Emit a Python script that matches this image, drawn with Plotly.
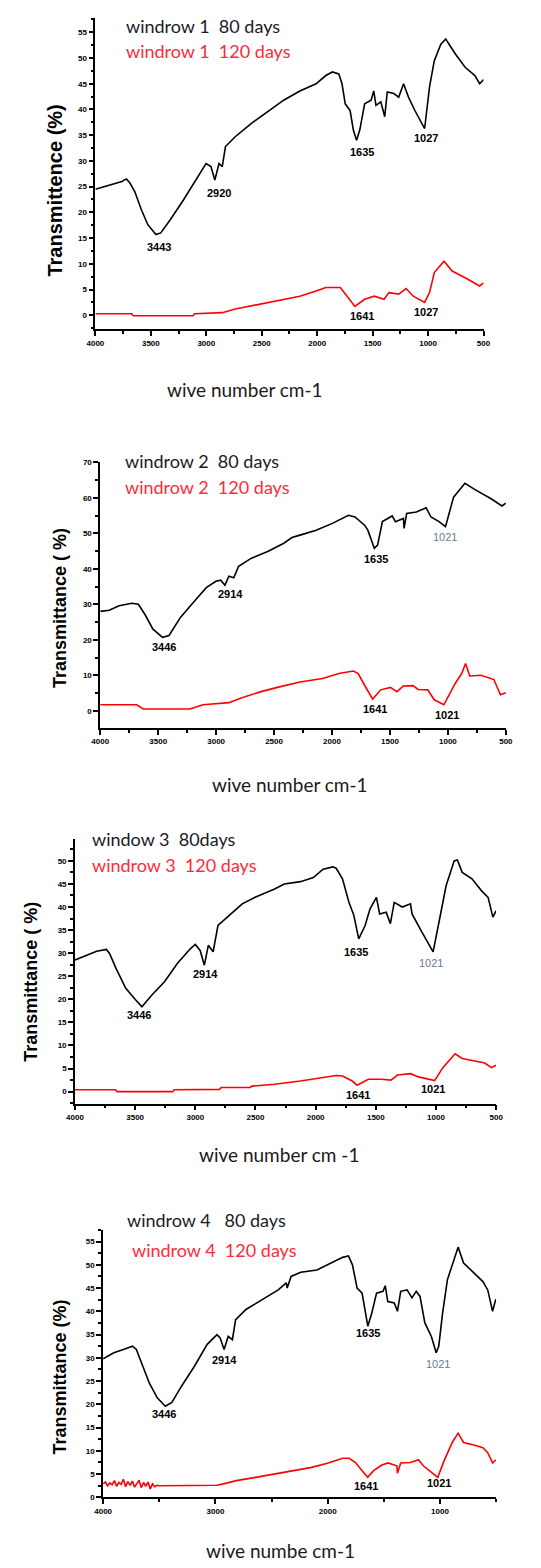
import plotly.graph_objects as go

W, H = 541, 1568

# ---------------- data ----------------
# Panel 1
w1_80_x = [4000, 3907, 3761, 3720, 3688, 3644, 3585, 3527, 3454, 3410, 3323, 3206, 3089, 3002, 2958, 2923, 2885, 2856, 2827, 2739, 2593, 2447, 2302, 2156, 2010, 1922, 1863, 1805, 1776, 1747, 1703, 1674, 1645, 1616, 1572, 1514, 1490, 1470, 1426, 1391, 1368, 1309, 1265, 1221, 1177, 1119, 1075, 1031, 987, 944, 885, 841, 754, 666, 578, 535, 500]
w1_80_y = [24.5, 25.1, 26.0, 26.5, 25.7, 24.0, 20.5, 17.6, 15.7, 16.0, 18.6, 22.4, 26.6, 29.5, 28.9, 26.3, 29.5, 28.9, 32.8, 34.7, 37.3, 39.5, 41.8, 43.6, 45.0, 46.6, 47.3, 46.9, 45.0, 41.1, 39.8, 36.0, 34.0, 36.0, 41.1, 41.8, 43.6, 40.8, 41.5, 38.6, 43.4, 43.1, 42.4, 45.0, 42.4, 39.8, 37.9, 36.3, 44.4, 49.5, 52.7, 53.7, 50.8, 48.2, 46.6, 45.0, 45.8]
w1_120_x = [4000, 3673, 3658, 3119, 3105, 2856, 2739, 2593, 2447, 2302, 2156, 2010, 1922, 1791, 1733, 1660, 1572, 1485, 1397, 1353, 1265, 1198, 1134, 1031, 987, 944, 856, 783, 666, 535, 500]
w1_120_y = [0.3, 0.3, -0.1, -0.1, 0.3, 0.5, 1.2, 1.8, 2.5, 3.1, 3.7, 4.7, 5.4, 5.4, 3.7, 1.7, 3.1, 3.7, 3.1, 4.4, 4.1, 5.2, 3.7, 2.5, 4.4, 8.3, 10.5, 8.6, 7.3, 5.7, 6.3]

# Panel 2
w2_80_x = [4000, 3922, 3838, 3727, 3671, 3615, 3545, 3462, 3406, 3308, 3197, 3085, 3002, 2960, 2924, 2890, 2848, 2806, 2695, 2555, 2416, 2346, 2276, 2137, 1997, 1858, 1802, 1719, 1691, 1635, 1607, 1565, 1481, 1453, 1384, 1378, 1356, 1272, 1188, 1146, 1076, 1021, 951, 853, 770, 631, 533, 500]
w2_80_y = [28.0, 28.3, 29.6, 30.3, 30.0, 27.2, 23.0, 20.7, 21.2, 26.3, 30.5, 34.7, 36.5, 36.8, 35.4, 37.9, 37.5, 40.7, 43.0, 44.9, 47.2, 48.8, 49.5, 50.9, 52.8, 55.1, 54.6, 52.3, 50.9, 45.8, 46.7, 53.3, 54.9, 53.3, 54.2, 51.4, 55.6, 56.0, 57.2, 54.6, 53.3, 51.9, 60.2, 64.1, 62.4, 59.8, 57.7, 58.5]
w2_120_x = [4000, 3685, 3629, 3225, 3113, 2890, 2778, 2612, 2472, 2276, 2081, 1942, 1816, 1774, 1719, 1649, 1580, 1496, 1440, 1384, 1300, 1258, 1174, 1118, 1035, 937, 881, 848, 812, 714, 603, 547, 500]
w2_120_y = [1.7, 1.7, 0.5, 0.5, 1.7, 2.3, 3.7, 5.4, 6.6, 8.1, 9.1, 10.5, 11.2, 10.5, 7.2, 3.3, 5.9, 6.6, 5.4, 7.0, 7.1, 6.0, 5.9, 3.1, 1.7, 7.7, 10.5, 13.3, 9.8, 10.0, 8.8, 4.5, 5.1]

# Panel 3
w3_80_x = [4000, 3901, 3820, 3739, 3712, 3659, 3578, 3497, 3444, 3363, 3256, 3148, 3040, 3000, 2960, 2925, 2892, 2852, 2812, 2718, 2610, 2503, 2396, 2341, 2261, 2126, 2019, 1938, 1857, 1830, 1777, 1723, 1683, 1642, 1589, 1548, 1495, 1468, 1414, 1379, 1347, 1280, 1212, 1199, 1118, 1051, 1024, 970, 916, 849, 822, 782, 701, 621, 567, 527, 500]
w3_80_y = [28.5, 29.6, 30.4, 30.8, 29.9, 26.7, 22.4, 19.9, 18.4, 20.9, 23.8, 27.8, 31.0, 31.9, 30.6, 27.4, 31.7, 30.3, 36.0, 38.2, 40.7, 42.1, 43.2, 43.9, 45.0, 45.5, 46.4, 48.2, 48.7, 48.4, 46.1, 41.0, 38.2, 33.1, 36.0, 39.6, 42.1, 38.5, 38.9, 36.4, 41.0, 40.0, 40.7, 38.5, 34.6, 31.7, 30.3, 37.4, 44.6, 50.0, 50.2, 47.5, 46.1, 43.5, 42.1, 37.8, 39.2]
w3_120_x = [4000, 3664, 3650, 3188, 3175, 2798, 2785, 2543, 2530, 2341, 2126, 2019, 1911, 1830, 1777, 1696, 1656, 1562, 1454, 1374, 1320, 1212, 1145, 1051, 1011, 943, 841, 782, 675, 594, 540, 500]
w3_120_y = [0.4, 0.4, 0.0, 0.0, 0.4, 0.5, 0.9, 0.9, 1.2, 1.6, 2.3, 2.7, 3.2, 3.5, 3.4, 2.3, 1.4, 2.7, 2.7, 2.5, 3.6, 3.9, 3.2, 2.6, 2.4, 5.2, 8.2, 7.2, 6.6, 6.2, 5.2, 5.7]

# Panel 4
w4_80_x = [4000, 3905, 3819, 3739, 3704, 3647, 3589, 3518, 3446, 3388, 3302, 3187, 3073, 2986, 2958, 2923, 2886, 2849, 2820, 2728, 2585, 2441, 2369, 2361, 2326, 2240, 2096, 1953, 1867, 1815, 1780, 1738, 1694, 1643, 1608, 1565, 1508, 1488, 1465, 1407, 1379, 1350, 1293, 1250, 1212, 1178, 1135, 1077, 1034, 1011, 977, 934, 876, 839, 790, 690, 618, 575, 532, 503]
w4_80_y = [29.8, 31.1, 31.8, 32.5, 31.8, 28.2, 24.6, 21.4, 19.6, 20.4, 23.9, 28.2, 32.9, 35.0, 34.3, 31.8, 34.6, 33.9, 38.2, 40.4, 42.5, 44.6, 46.1, 45.0, 47.5, 48.4, 48.9, 50.5, 51.6, 51.9, 50.0, 45.0, 43.9, 36.8, 39.6, 43.9, 44.3, 45.5, 42.1, 41.8, 40.0, 44.3, 44.6, 42.9, 44.3, 43.2, 37.5, 34.6, 31.1, 32.5, 39.6, 46.8, 51.1, 53.8, 50.4, 48.2, 46.4, 44.6, 40.0, 42.6]
w4_120_x = [4000, 3980, 3960, 3940, 3920, 3900, 3880, 3860, 3840, 3820, 3800, 3780, 3760, 3740, 3720, 3700, 3680, 3660, 3640, 3620, 3600, 3580, 3560, 3540, 3520, 3500, 2987, 2929, 2814, 2642, 2470, 2297, 2154, 2010, 1867, 1809, 1752, 1694, 1643, 1594, 1522, 1465, 1384, 1379, 1350, 1264, 1192, 1149, 1063, 1020, 963, 891, 839, 790, 690, 618, 575, 532, 503]
w4_120_y = [2.9, 3.3, 2.5, 3.1, 2.7, 3.6, 2.4, 3.2, 2.8, 3.9, 2.3, 3.4, 2.6, 3.5, 2.2, 3.0, 3.7, 2.1, 3.2, 2.4, 3.3, 1.8, 2.9, 2.3, 2.6, 2.5, 2.6, 2.9, 3.6, 4.3, 5.0, 5.7, 6.4, 7.3, 8.4, 8.4, 7.5, 5.7, 4.3, 5.7, 6.9, 7.4, 6.8, 5.2, 7.4, 7.5, 8.1, 6.8, 5.0, 4.3, 7.9, 11.8, 13.8, 11.8, 11.2, 10.7, 9.6, 7.4, 8.1]

legend_80 = ["windrow 1  80 days", "windrow 2  80 days", "window 3  80days", "windrow 4   80 days"]
legend_120 = ["windrow 1  120 days", "windrow 2  120 days", "windrow 3  120 days", "windrow 4  120 days"]
y_titles = ["Transmittence (%)", "Transmittance ( %)", "Transmittance ( %)", "Transmittance (%)"]
x_titles = ["wive number cm-1", "wive number cm-1", "wive number cm -1", "wive numbe cm-1"]

# peak labels: (panel, wavenumber, value, text, style)
peaks = [
    (1, 3427, 13.3, "3443", "b"), (1, 2885, 23.7, "2920", "b"), (1, 1600, 31.8, "1635", "b"), (1, 1016, 34.4, "1027", "b"),
    (1, 1600, -0.1, "1641", "b"), (1, 1016, 0.6, "1027", "b"),
    (2, 3448, 17.9, "3446", "b"), (2, 2876, 32.8, "2914", "b"), (2, 1620, 42.8, "1635", "b"), (2, 1021, 49.1, "1021", "l"),
    (2, 1633, 0.6, "1641", "b"), (2, 1007, -1.1, "1021", "b"),
    (3, 3470, 16.6, "3446", "b"), (3, 2919, 25.4, "2914", "b"), (3, 1664, 30.3, "1635", "b"), (3, 1038, 27.8, "1021", "l"),
    (3, 1648, -0.7, "1641", "b"), (3, 1024, 0.5, "1021", "b"),
    (4, 3460, 18.0, "3446", "b"), (4, 2915, 29.6, "2914", "b"), (4, 1637, 35.4, "1635", "b"), (4, 1020, 28.7, "1021", "l"),
    (4, 1657, 2.4, "1641", "b"), (4, 1005, 3.1, "1021", "b"),
]

# ---------------- layout geometry (pixels) ----------------
panels = [
    dict(x0=89, x1=489, top=14, bot=327, yr=[-2.7, 57.8], ydt=5, xdt=500),
    dict(x0=94, x1=512, top=461, bot=728, yr=[-4.8, 70.0], ydt=10, xdt=500),
    dict(x0=68, x1=502, top=840, bot=1106, yr=[-2.6, 54.7], ydt=5, xdt=500),
    dict(x0=97, x1=502, top=1233, bot=1502, yr=[0, 57.5], ydt=5, xdt=1000),
]
leg_pos = [  # (x_left, y_80, y_120, x_left_120)
    (120, 22, 47, 120),
    (118, 460, 486, 118),
    (85, 840, 866, 85),
    (121, 1223, 1253, 126),
]
ytitle_pos = [(47, 188, 20), (52, 607, 18), (23, 983, 18), (53, 1381, 18)]
xtitle_pos = [(243, 388), (290, 785), (278, 1157), (280, 1555)]

series = [(w1_80_x, w1_80_y, w1_120_x, w1_120_y), (w2_80_x, w2_80_y, w2_120_x, w2_120_y),
          (w3_80_x, w3_80_y, w3_120_x, w3_120_y), (w4_80_x, w4_80_y, w4_120_x, w4_120_y)]

fig = go.Figure()
layout = dict(width=W, height=H, margin=dict(l=0, r=0, t=0, b=0), paper_bgcolor="white",
              plot_bgcolor="white", showlegend=False, annotations=[])


def px(x):
    return x / W


def py(y):
    return 1 - y / H


def sp(t):
    return t.replace("  ", "&nbsp; ")


tickfont = dict(family="Liberation Sans", size=8, color="black", weight="bold")
for i, (p, s) in enumerate(zip(panels, series)):
    n = i + 1
    xa = "x" if n == 1 else f"x{n}"
    ya = "y" if n == 1 else f"y{n}"
    fig.add_trace(go.Scatter(x=s[0], y=s[1], mode="lines", line=dict(color="black", width=1.6),
                             xaxis=xa, yaxis=ya))
    fig.add_trace(go.Scatter(x=s[2], y=s[3], mode="lines", line=dict(color="#ff0000", width=1.6),
                             xaxis=xa, yaxis=ya))
    xkey = "xaxis" if n == 1 else f"xaxis{n}"
    ykey = "yaxis" if n == 1 else f"yaxis{n}"
    layout[xkey] = dict(domain=[px(p["x0"]), px(p["x1"])], anchor=ya, range=[4000, 500],
                        showgrid=False, zeroline=False, showline=True, linecolor="black", linewidth=1.6,
                        ticks="outside", ticklen=5, tickwidth=1.5, tickcolor="black",
                        tick0=0, dtick=p["xdt"], tickfont=tickfont,
                        minor=dict(ticks="outside", ticklen=3, tickcolor="black", dtick=p["xdt"] / 2, tick0=0))
    layout[ykey] = dict(domain=[py(p["bot"]), py(p["top"])], anchor=xa, range=p["yr"],
                        showgrid=False, zeroline=False, showline=True, linecolor="black", linewidth=1.6,
                        ticks="outside", ticklen=5, tickwidth=1.5, tickcolor="black",
                        tick0=0, dtick=p["ydt"], tickfont=tickfont,
                        minor=dict(ticks="outside", ticklen=3, tickcolor="black", dtick=p["ydt"] / 2, tick0=0))
    lx, ly80, ly120, lx120 = leg_pos[i]
    layout["annotations"].append(dict(x=px(lx), y=py(ly80), xref="paper", yref="paper", text=sp(legend_80[i]),
                                      showarrow=False, xanchor="left", yanchor="middle", borderpad=0,
                                      font=dict(family="Lato", size=18, color="#1a1a28")))
    layout["annotations"].append(dict(x=px(lx120), y=py(ly120), xref="paper", yref="paper", text=sp(legend_120[i]),
                                      showarrow=False, xanchor="left", yanchor="middle", borderpad=0,
                                      font=dict(family="Lato", size=18, color="#ff2a3a")))
    tx, ty, ts = ytitle_pos[i]
    layout["annotations"].append(dict(x=px(tx), y=py(ty), xref="paper", yref="paper", text=y_titles[i],
                                      showarrow=False, textangle=-90, xanchor="center", yanchor="middle",
                                      font=dict(family="Liberation Sans", size=ts, color="black", weight="bold")))
    xx, xy = xtitle_pos[i]
    layout["annotations"].append(dict(x=px(xx), y=py(xy), xref="paper", yref="paper", text=x_titles[i],
                                      showarrow=False, xanchor="center", yanchor="middle",
                                      font=dict(family="Lato", size=19, color="#1a1a1a")))

for (n, wx, wy, t, st) in peaks:
    xa = "x" if n == 1 else f"x{n}"
    ya = "y" if n == 1 else f"y{n}"
    if st == "b":
        f = dict(family="Liberation Sans", size=11, color="black", weight="bold")
    else:
        f = dict(family="Liberation Sans", size=11, color="#6a7a90")
    layout["annotations"].append(dict(x=wx, y=wy, xref=xa, yref=ya, text=t, showarrow=False,
                                      xanchor="center", yanchor="middle", font=f))

fig.update_layout(**layout)
fig.write_html("out.html", config={"displayModeBar": False},
               post_script="document.body.style.margin='0';document.body.style.overflow='hidden';")
